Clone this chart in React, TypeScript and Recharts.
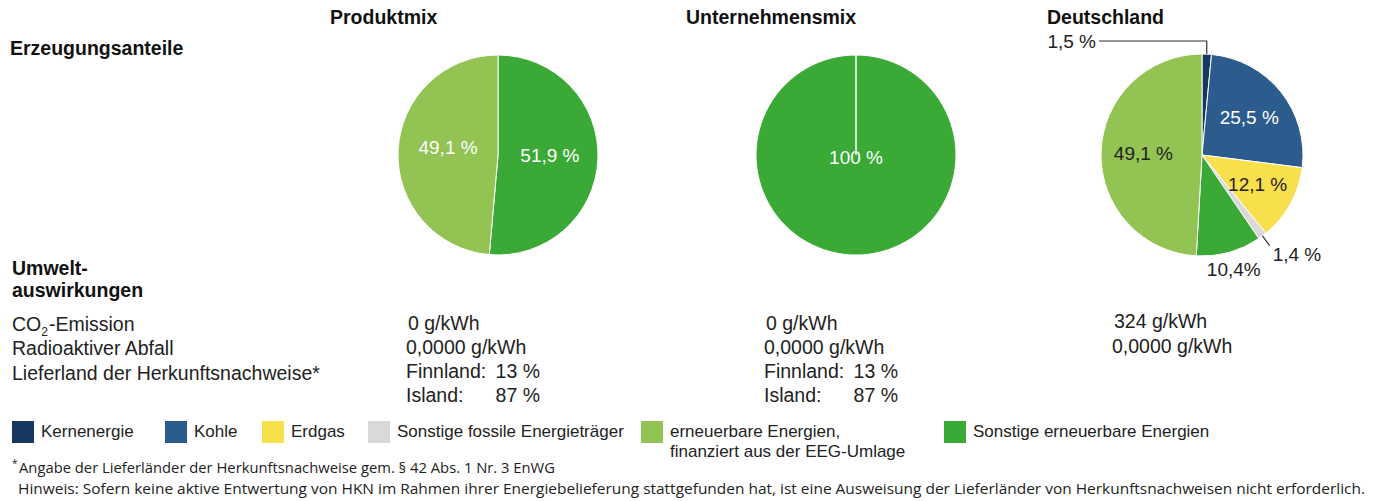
import React from "react";
import { PieChart, Pie, Cell, Legend } from "recharts";

// energy sources (legend order) and their colours
const categories = [
  "Kernenergie",
  "Kohle",
  "Erdgas",
  "Sonstige fossile Energieträger",
  "erneuerbare Energien,\nfinanziert aus der EEG-Umlage",
  "Sonstige erneuerbare Energien",
];
const colors = ["#17375e", "#2c5b8e", "#f8e04c", "#d9d9d9", "#92c353", "#3aa935"];

const produktNames = [categories[5], categories[4]];
const produktValues = [51.9, 49.1];
const produktLabels = ["51,9 %", "49,1 %"];

const unternehmenNames = [categories[5]];
const unternehmenValues = [100];
const unternehmenLabels = ["100 %"];

const deutschlandNames = [
  categories[0],
  categories[1],
  categories[2],
  categories[3],
  categories[5],
  categories[4],
];
const deutschlandValues = [1.5, 25.5, 12.1, 1.4, 10.4, 49.1];
const deutschlandLabels = ["1,5 %", "25,5 %", "12,1 %", "1,4 %", "10,4%", "49,1 %"];

const mixTitles = ["Produktmix", "Unternehmensmix", "Deutschland"];
const co2Values = ["0 g/kWh", "0 g/kWh", "324 g/kWh"];
const wasteValues = ["0,0000 g/kWh", "0,0000 g/kWh", "0,0000 g/kWh"];
const countryNames = ["Finnland:", "Island:"];
const countryShares = ["13 %", "87 %"];

const toData = (names: string[], values: number[]) =>
  names.map((name, i) => ({ name, value: values[i] }));

const colorOf = (name: string) => colors[categories.indexOf(name)];

const FONT = "'Liberation Sans', Arial, sans-serif";
const NOTE_FONT = "'Open Sans', sans-serif";
const RAD = Math.PI / 180;

type LabelStyle = { r: number; fill: string; dy?: number; leader?: "elbow" | "radial" };

const makeLabel =
  (labels: string[], styles: LabelStyle[]) =>
  (props: any) => {
    const { cx, cy, midAngle, outerRadius, index } = props;
    const st = styles[index];
    const cos = Math.cos(-midAngle * RAD);
    const sin = Math.sin(-midAngle * RAD);
    if (st.leader === "elbow") {
      const ox = cx + outerRadius * cos;
      const oy = cy + outerRadius * sin;
      const ey = cy - outerRadius - 13;
      const ex = cx - outerRadius - 2;
      return (
        <g>
          <polyline points={`${ox},${oy} ${ox},${ey} ${ex},${ey}`} fill="none" stroke="#333" strokeWidth={1.2} />
          <text x={ex - 3} y={ey + 7} textAnchor="end" fontFamily={FONT} fontSize={19} fill="#222">
            {labels[index]}
          </text>
        </g>
      );
    }
    if (st.leader === "radial") {
      const ox = cx + outerRadius * cos;
      const oy = cy + outerRadius * sin;
      const lx = cx + outerRadius * 1.12 * cos;
      const ly = cy + outerRadius * 1.12 * sin;
      return (
        <g>
          <line x1={ox} y1={oy} x2={lx} y2={ly} stroke="#333" strokeWidth={1.2} />
          <text x={lx + 3} y={ly + 15} textAnchor="start" fontFamily={FONT} fontSize={19} fill="#222">
            {labels[index]}
          </text>
        </g>
      );
    }
    const x = cx + outerRadius * st.r * cos;
    const y = cy + outerRadius * st.r * sin + (st.dy ?? 0);
    return (
      <text x={x} y={y} textAnchor="middle" dominantBaseline="central" fontFamily={FONT} fontSize={19} fill={st.fill}>
        {labels[index]}
      </text>
    );
  };

const produktStyles: LabelStyle[] = [
  { r: 0.52, fill: "#fff", dy: -2 },
  { r: 0.5, fill: "#fff", dy: -5 },
];
const unternehmenStyles: LabelStyle[] = [{ r: 0, fill: "#fff", dy: 2 }];
const deutschlandStyles: LabelStyle[] = [
  { r: 1, fill: "#222", leader: "elbow" },
  { r: 0.6, fill: "#fff" },
  { r: 0.63, fill: "#222", dy: -1 },
  { r: 1, fill: "#222", leader: "radial" },
  { r: 1.18, fill: "#222" },
  { r: 0.58, fill: "#222" },
];

const legendX = [12, 165, 262, 368, 641, 944];

const renderLegend = () => (
  <div style={{ position: "relative", width: 1378, height: 46, fontFamily: FONT, fontSize: 17, color: "#222" }}>
    {categories.map((c, i) => (
      <div key={c} style={{ position: "absolute", left: legendX[i], top: 0, display: "flex" }}>
        <div style={{ width: 22, height: 22, background: colors[i], marginRight: 7, flexShrink: 0 }} />
        <div style={{ whiteSpace: "pre", lineHeight: "20px", marginTop: 1 }}>{c}</div>
      </div>
    ))}
  </div>
);

const valueX = [406, 764, 1112];
const pieCx = [498, 856, 1202];
const titleX = [330, 686, 1047];

export default function App() {
  const pies = [
    { data: toData(produktNames, produktValues), label: makeLabel(produktLabels, produktStyles) },
    { data: toData(unternehmenNames, unternehmenValues), label: makeLabel(unternehmenLabels, unternehmenStyles) },
    { data: toData(deutschlandNames, deutschlandValues), label: makeLabel(deutschlandLabels, deutschlandStyles) },
  ];
  return (
    <div style={{ position: "absolute", left: 0, top: 0, width: 1378, height: 501, background: "#fff" }}>
      <PieChart width={1378} height={501} margin={{ top: 0, right: 0, bottom: 0, left: 0 }}>
        {pies.map((p, k) => (
          <Pie
            key={k}
            data={p.data}
            dataKey="value"
            nameKey="name"
            cx={pieCx[k]}
            cy={155}
            outerRadius={k === 2 ? 101 : 100}
            startAngle={90}
            endAngle={-270}
            stroke="#fff"
            strokeWidth={1}
            label={p.label}
            labelLine={false}
            isAnimationActive={false}
          >
            {p.data.map((d) => (
              <Cell key={d.name} fill={colorOf(d.name)} />
            ))}
          </Pie>
        ))}

        {mixTitles.map((t, k) => (
          <text key={t} x={titleX[k]} y={24} fontFamily={FONT} fontSize={19.5} fontWeight="bold" fill="#111">
            {t}
          </text>
        ))}
        <text x={10} y={55} fontFamily={FONT} fontSize={19.5} fontWeight="bold" fill="#111">
          Erzeugungsanteile
        </text>
        <text x={12} y={275} fontFamily={FONT} fontSize={19.5} fontWeight="bold" fill="#111">
          Umwelt-
        </text>
        <text x={12} y={297} fontFamily={FONT} fontSize={19.5} fontWeight="bold" fill="#111">
          auswirkungen
        </text>

        <text x={12} y={331} fontFamily={FONT} fontSize={19.5} fill="#222">
          <tspan>CO</tspan>
          <tspan fontSize={12} dy={5}>2</tspan>
          <tspan dy={-5} dx={1}>-Emission</tspan>
        </text>
        <text x={12} y={355} fontFamily={FONT} fontSize={19.5} fill="#222">
          Radioaktiver Abfall
        </text>
        <text x={12} y={380} fontFamily={FONT} fontSize={19.5} fill="#222">
          Lieferland der Herkunftsnachweise*
        </text>

        {co2Values.map((v, k) => (
          <text key={"co2" + k} x={valueX[k] + 2} y={k === 2 ? 328 : 330} fontFamily={FONT} fontSize={19.5} fill="#222">
            {v}
          </text>
        ))}
        {wasteValues.map((v, k) => (
          <text key={"w" + k} x={valueX[k]} y={k === 2 ? 353 : 354} fontFamily={FONT} fontSize={19.5} fill="#222">
            {v}
          </text>
        ))}
        {[0, 1].map((k) =>
          countryNames.map((c, j) => (
            <g key={c + k}>
              <text x={valueX[k]} y={378 + j * 24} fontFamily={FONT} fontSize={19.5} fill="#222">
                {c}
              </text>
              <text x={valueX[k] + 134} y={378 + j * 24} textAnchor="end" fontFamily={FONT} fontSize={19.5} fill="#222">
                {countryShares[j]}
              </text>
            </g>
          ))
        )}

        <text x={12} y={467} fontFamily={NOTE_FONT} fontSize={10} fill="#222">
          *
        </text>
        <text x={19} y={473} fontFamily={NOTE_FONT} fontSize={15} fill="#222" textLength={536} lengthAdjust="spacingAndGlyphs">
          Angabe der Lieferländer der Herkunftsnachweise gem. § 42 Abs. 1 Nr. 3 EnWG
        </text>
        <text x={18} y={494} fontFamily={NOTE_FONT} fontSize={15} fill="#222" textLength={1347} lengthAdjust="spacingAndGlyphs">
          Hinweis: Sofern keine aktive Entwertung von HKN im Rahmen ihrer Energiebelieferung stattgefunden hat, ist eine Ausweisung der Lieferländer von Herkunftsnachweisen nicht erforderlich.
        </text>

        <Legend content={renderLegend} wrapperStyle={{ left: 0, top: 421, width: 1378, bottom: "auto" }} />
      </PieChart>
    </div>
  );
}
